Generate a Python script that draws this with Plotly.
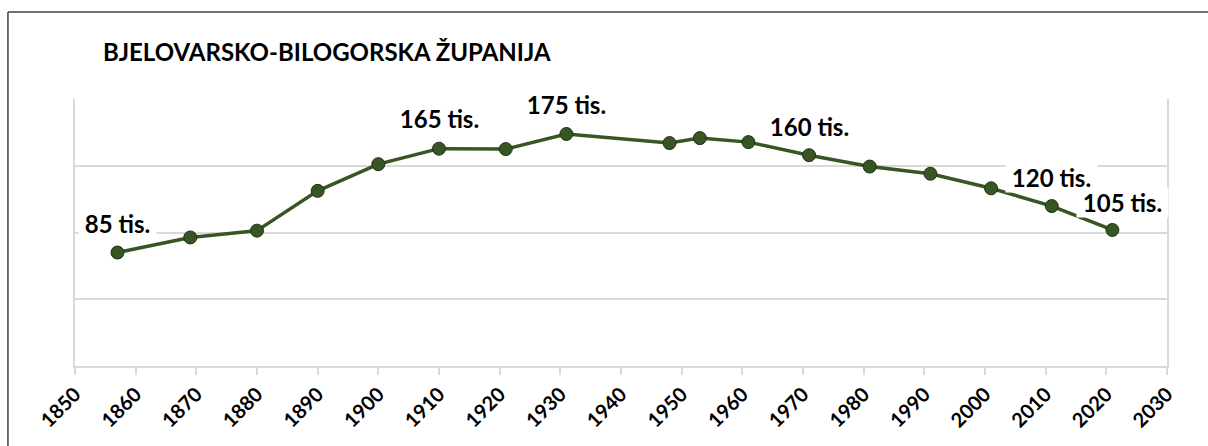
import plotly.graph_objects as go

# Census years and population (thousands)
years = [1857, 1869, 1880, 1890, 1900, 1910, 1921, 1931, 1948, 1953,
         1961, 1971, 1981, 1991, 2001, 2011, 2021]
population = [85.0, 96.3, 101.4, 131.2, 151.2, 162.8, 162.5, 173.8, 167.0,
              170.7, 167.7, 157.9, 149.4, 144.0, 133.1, 119.8, 101.9]

# Labelled points: year -> text
label_years = [1857, 1910, 1931, 1971, 2011, 2021]
label_texts = ["85 tis.", "165 tis.", "175 tis.", "160 tis.", "120 tis.", "105 tis."]
label_xshift = [0, 0, 0, 0, 0, 10]
label_yshift = [29, 30, 29, 29, 29, 27]

tick_years = list(range(1850, 2031, 10))

title_text = "BJELOVARSKO-BILOGORSKA ŽUPANIJA"

FONT = "Lato"
GREEN = "#375623"
GRID = "#d9d9d9"

fig = go.Figure()
fig.add_trace(go.Scatter(
    x=years, y=population, mode="lines+markers",
    line=dict(color=GREEN, width=3.5),
    marker=dict(size=13, color=GREEN, line=dict(color="#1e3312", width=1)),
    hoverinfo="x+y", showlegend=False,
))

for yr, txt, dx, dy in zip(label_years, label_texts, label_xshift, label_yshift):
    val = population[years.index(yr)]
    fig.add_annotation(
        x=yr, y=val, text=f"<b>&nbsp;{txt}&nbsp;</b>", showarrow=False,
        xshift=dx, yshift=dy, bgcolor="white", borderpad=0,
        font=dict(family=FONT, size=24, color="black"),
    )

# Outer chart frame (top and left edges; the rest falls outside the page)
frame = dict(color="#404040", width=1.5)
fig.add_shape(type="line", xref="paper", yref="paper",
              x0=-0.0614, x1=1.06, y0=1.3258, y1=1.3258, line=frame)
fig.add_shape(type="line", xref="paper", yref="paper",
              x0=-0.0614, x1=-0.0614, y0=-0.34, y1=1.3258, line=frame)

fig.update_layout(
    width=1208, height=446,
    margin=dict(l=75, r=41, t=99, b=80, pad=0),
    paper_bgcolor="white", plot_bgcolor="white",
    title=dict(text=f"<b>{title_text}</b>", x=103 / 1208, xanchor="left",
               xref="container", y=1 - 53 / 446, yanchor="middle",
               font=dict(family=FONT, size=24, color="black")),
    xaxis=dict(range=[1850, 2030], tickvals=tick_years,
               ticktext=[f"<b>{t}</b>" for t in tick_years], tickangle=-45,
               showgrid=False, zeroline=False, showline=True,
               linecolor=GRID, linewidth=1.5, ticks="outside",
               ticklen=7, tickcolor=GRID, tickwidth=1.5, mirror=False,
               tickfont=dict(family=FONT, size=20, color="black")),
    yaxis=dict(range=[0, 200], dtick=50, showticklabels=False,
               showgrid=True, gridcolor=GRID, gridwidth=1.5,
               zeroline=False, showline=True, linecolor=GRID,
               linewidth=1.5, mirror=True, ticks=""),
)

fig.write_html("out.html",
               post_script="document.body.style.overflow='hidden';"
                           "document.body.style.margin='0';")
